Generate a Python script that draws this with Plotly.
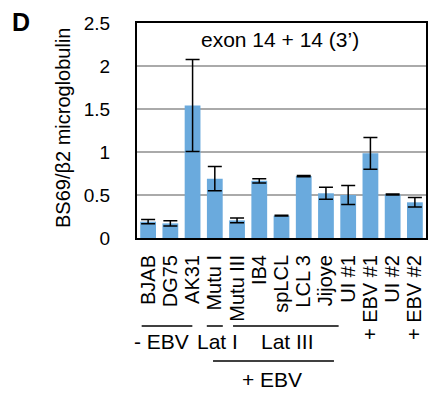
import plotly.graph_objects as go

categories = ["BJAB", "DG75", "AK31", "Mutu I", "Mutu III", "IB4", "spLCL", "LCL 3",
              "Jijoye", "UI #1", "+ EBV #1", "UI #2", "+ EBV #2"]
values = [0.19, 0.17, 1.54, 0.69, 0.205, 0.665, 0.26, 0.72, 0.52, 0.50, 0.985, 0.505, 0.415]
errors = [0.025, 0.03, 0.535, 0.14, 0.027, 0.025, 0.004, 0.008, 0.07, 0.11, 0.185, 0.006, 0.055]
yticks = [0, 0.5, 1, 1.5, 2, 2.5]
ytick_labels = ["0", "0.5", "1", "1.5", "2", "2.5"]

# group brackets: (label, line_start, line_end, text_center, level)
groups = [
    ("- EBV", -0.29, 1.99, 0.60, 0),
    ("Lat I", 2.64, 3.36, 3.10, 0),
    ("Lat III", 3.82, 8.57, 6.25, 0),
    ("+ EBV", 2.92, 8.36, 5.56, 1),
]

FONT = "Liberation Sans, Arial, sans-serif"
xs = list(range(len(categories)))

# plot area in pixels
L, R, T, B = 137, 426, 23, 238
PW, PH = R - L, B - T


def py(p):
    return (B - p) / PH


def px(p):
    return (p - L) / PW


fig = go.Figure()
fig.add_trace(go.Bar(
    x=xs, y=values, width=0.71,
    marker=dict(color="#6aaadd", line=dict(width=0)),
    error_y=dict(type="data", array=errors, visible=True, color="black",
                 thickness=1.5, width=7),
))

fig.update_layout(
    width=433, height=397,
    margin=dict(l=L, r=433 - R, t=T, b=397 - B, autoexpand=False),
    plot_bgcolor="white", paper_bgcolor="white",
    showlegend=False,
    font=dict(family=FONT, size=20, color="black"),
)
fig.update_xaxes(
    range=[-0.5, len(categories) - 0.5],
    tickmode="array", tickvals=xs, ticktext=categories,
    tickangle=-90, tickfont=dict(size=20),
    showline=True, linecolor="black", linewidth=2, mirror=True,
    showgrid=False, ticks="", ticklabelstandoff=7, automargin=False,
)
fig.update_yaxes(
    range=[0, 2.5],
    tickmode="array", tickvals=yticks, ticktext=ytick_labels,
    tickfont=dict(size=19),
    showline=True, linecolor="black", linewidth=2, mirror=True,
    showgrid=True, gridcolor="#aaaaaa", gridwidth=2,
    ticks="", ticklabelstandoff=21, zeroline=False, automargin=False,
)

fig.add_annotation(text="BS69/β2 microglobulin", textangle=-90,
                   x=px(63), y=py(128), xref="paper", yref="paper",
                   xanchor="center", yanchor="middle",
                   showarrow=False, font=dict(size=20))
fig.add_annotation(text="exon 14 + 14 (3’)", x=px(280), y=py(39), xref="paper", yref="paper",
                   xanchor="center", yanchor="middle",
                   showarrow=False, font=dict(size=21))
fig.add_annotation(text="<b>D</b>", x=px(21), y=py(22), xref="paper", yref="paper",
                   xanchor="center", yanchor="middle",
                   showarrow=False, font=dict(size=25))

line_y = [py(326), py(361)]
text_y = [py(341), py(379)]
for label, x0, x1, xc, lvl in groups:
    fig.add_shape(type="line", xref="x", yref="paper", x0=x0, x1=x1,
                  y0=line_y[lvl], y1=line_y[lvl], line=dict(color="black", width=1.5))
    fig.add_annotation(text=label, x=xc, y=text_y[lvl], xref="x", yref="paper",
                       xanchor="center", yanchor="middle",
                       showarrow=False, font=dict(size=21))

fig.write_html("out.html", config={"displayModeBar": False},
               post_script="document.body.style.margin='0';document.body.style.overflow='hidden';")
